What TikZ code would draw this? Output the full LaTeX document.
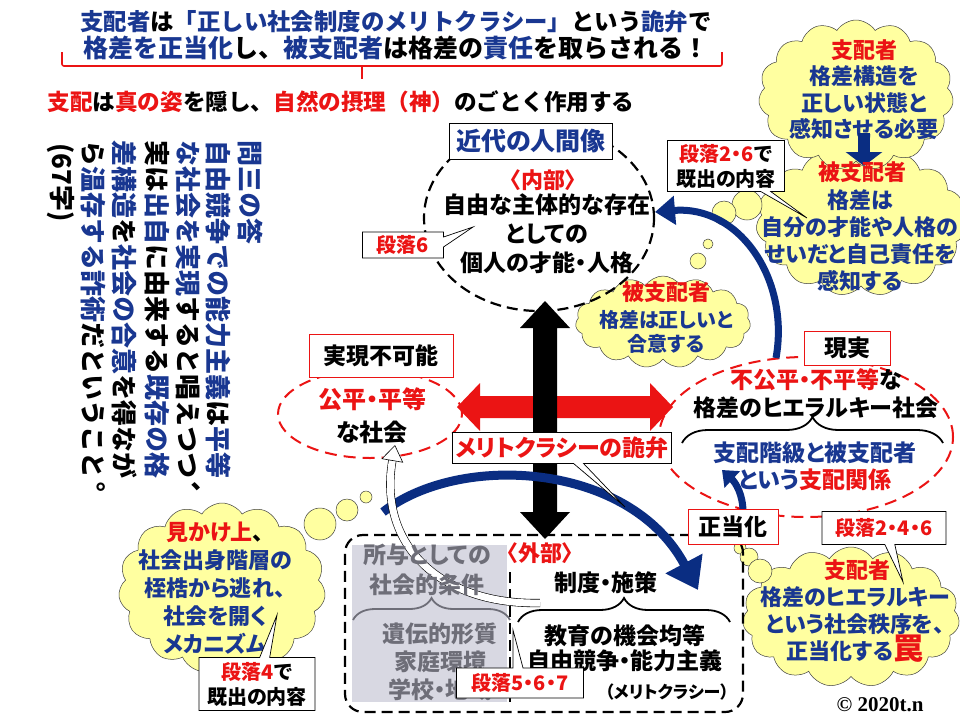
\documentclass[tikz,border=0pt]{standalone}
\usepackage{fontspec}
\setmainfont{Noto Sans CJK JP}[RawFeature=+palt]
\newfontfamily\fullfont{Noto Sans CJK JP}
\newfontfamily\tatefont{Noto Sans CJK JP}[Vertical=RotatedGlyphs]
\newfontfamily\crfont{Liberation Serif}
\usetikzlibrary{shapes.geometric, shapes.symbols, shapes.callouts, arrows.meta,
  decorations.pathreplacing}

\definecolor{tblue}{RGB}{25,55,145}
\definecolor{tred}{RGB}{235,20,20}
\definecolor{navy}{RGB}{10,45,130}
\definecolor{cloudy}{RGB}{255,255,160}
\definecolor{grayfill}{RGB}{216,216,226}
\definecolor{graytext}{RGB}{110,110,120}

\newcommand{\bl}[1]{\textcolor{tblue}{#1}}
\newcommand{\rd}[1]{\textcolor{tred}{#1}}
\newcommand{\jfs}[2]{\fontsize{#1}{#2}\selectfont\bfseries}

\tikzstyle{txt} = [align=center, inner sep=0pt]
\tikzstyle{tate} = [rotate=-90, anchor=west, inner sep=0pt,
  font=\tatefont\bfseries\fontsize{26}{30}\selectfont]
\tikzstyle{tatemark} = [inner sep=0pt, font=\fullfont\bfseries\fontsize{26}{30}\selectfont]
\tikzstyle{redbox} = [rectangle, draw=tred, fill=white, line width=0.8pt,
  inner sep=2pt]
\tikzstyle{blackbox} = [rectangle, draw=black, fill=white, line width=0.8pt,
  inner sep=2pt]
\tikzstyle{note} = [rectangle callout, draw=black, fill=white, line width=0.7pt,
  inner sep=2pt, align=center, callout pointer width=10pt]
\tikzstyle{bubble} = [cloud, cloud puffs=15, cloud puff arc=115,
  cloud ignores aspect, draw=black!75, fill=cloudy, line width=0.5pt]
\tikzstyle{puff} = [circle, draw=black!75, fill=cloudy, line width=0.5pt,
  inner sep=0pt]
\tikzstyle{blackring} = [ellipse, draw=black, line width=2.2pt,
  dash pattern=on 11pt off 6pt]
\tikzstyle{redring} = [ellipse, draw=tred, line width=2pt,
  dash pattern=on 12pt off 7pt]
\tikzstyle{navyarrow} = [navy, line width=7pt,
  -{Triangle[length=20pt, width=28pt]}]
\tikzstyle{curly} = [decorate, decoration={brace, amplitude=26pt, aspect=0.5},
  line width=1.8pt]

\begin{document}
\begin{tikzpicture}[x=1pt, y=-1pt]
  \useasboundingbox (0,0) rectangle (960,720);
  \fill [white] (0,0) rectangle (960,720);

  % title
  \node (title1) [txt, font=\fullfont\jfs{23.4}{28}] at (396,22)
    {\bl{支配者}は\bl{「正しい社会制度のメリトクラシー」}という\bl{詭弁}で};
  \node (title2) [txt, font=\fullfont\jfs{25}{28}] at (396,48)
    {\bl{格差を正当化}し、\bl{被支配者}は格差の\bl{責任}を取らされる！};
  \draw [tred, line width=1.6pt, rounded corners=2pt] (62,52) |- (722,66) -- (722,52);
  \draw [tred, line width=1.6pt] (362,66) -- (362,79);
  \node (nature) [txt, font=\fullfont\jfs{22.6}{28}] at (341,102)
    {\rd{支配}は\rd{真の姿}を隠し、\rd{自然の摂理（神）}のごとく作用する};

  % answer, written top to bottom
  \node (col1) [tate] at (250,140) {\bl{問三の答}};
  \node (col2) [tate] at (218,140) {\bl{自由競争での能力主義}は\bl{平等}};
  \node (col3) [tate] at (188,140) {\bl{な社会を実現}すると唱えつつ};
  \node (comma3) [tatemark] at (188,494) {︑};
  \node (col4) [tate] at (157,140) {実は\bl{出自}に由来する\bl{既存の格}};
  \node (col5) [tate] at (125,140) {\bl{差構造}を\bl{社会の合意}を得なが};
  \node (col6) [tate] at (93,140) {ら\bl{温存する詐術}だということ};
  \node (stop6) [tatemark] at (93,494) {︒};
  \node (col7) [tate] at (61,143) {(67字)};

  % clouds
  \node (cloudL) [bubble, minimum width=210pt, minimum height=148pt] at (861,222) {};
  \node (cloudU) [bubble, minimum width=195pt, minimum height=150pt] at (856,95) {};
  \node (p1) [puff, minimum size=30pt] at (747,205) {};
  \node (p2) [puff, minimum size=24pt] at (724,213) {};
  \node (p3) [puff, minimum size=10pt] at (708,244) {};
  \node (p4) [puff, minimum size=16pt] at (698,261) {};
  \node (cloudM) [bubble, minimum width=175pt, minimum height=92pt] at (663,322) {};
  \node (cloudBL) [bubble, minimum width=207pt, minimum height=170pt] at (222,588) {};
  \node (p5) [puff, minimum size=32pt] at (320,524) {};
  \node (p6) [puff, minimum size=22pt] at (347,510) {};
  \node (p7) [puff, minimum size=12pt] at (366,497) {};
  \node (cloudBR) [bubble, minimum width=217pt, minimum height=140pt] at (851,617) {};
  \node (p8) [puff, minimum size=12pt] at (740,548) {};
  \node (p9) [puff, minimum size=18pt] at (749,557) {};
  \node (p10) [puff, minimum size=24pt] at (760,571) {};

  % rings
  \node (naibu) [blackring, minimum width=230pt, minimum height=186pt] at (539,218) {};
  \node (kohei) [redring, minimum width=184pt, minimum height=88pt] at (370,414) {};
  \node (genjitsu) [redring, minimum width=294pt, minimum height=160pt] at (806,437) {};

  % outside frame
  \node (shoyo) [fill=grayfill, minimum width=155pt, minimum height=157pt,
    inner sep=0pt] at (429.5,623.5) {};
  \node (gaibu) [draw=black, line width=2.2pt, dash pattern=on 11pt off 6pt,
    rounded corners=18pt, minimum width=398pt, minimum height=177pt] at (544,623.5) {};
  \draw [line width=2.2pt, dash pattern=on 11pt off 6pt] (510,572) -- (510,702);

  % big arrows
  \fill [tred] (457,407) -- (480,383) -- (480,396) -- (650,396) -- (650,383)
    -- (673,407) -- (650,431) -- (650,418) -- (480,418) -- (480,431) -- cycle;
  \fill [black] (545,301) -- (570,328) -- (557,328) -- (557,512) -- (570,512)
    -- (545,539) -- (520,512) -- (533,512) -- (533,328) -- (520,328) -- cycle;

  \coordinate (tailA) at (776,358);
  \coordinate (headA) at (655,212);
  \draw [navyarrow] (tailA) .. controls (790,280) and (740,205) .. (headA);
  \coordinate (tailB) at (383,512);
  \coordinate (headB) at (698,590);
  \draw [navyarrow, line width=9pt, -{Triangle[length=30pt, width=40pt]}]
    (tailB) .. controls (460,452) and (630,462) .. (headB);
  \coordinate (tailC) at (743,512);
  \coordinate (headC) at (722,470);
  \draw [navyarrow, -{Triangle[length=14pt, width=22pt]}]
    (tailC) .. controls (743,495) and (736,483) .. (headC);
  \coordinate (tailD) at (540,603);
  \coordinate (headD) at (395,445);
  \draw [line width=0.6pt, double=white, double distance=7pt,
    -{Triangle[open, length=16pt, width=22pt, fill=white]}]
    (tailD) .. controls (440,605) and (378,545) .. (headD);

  % boxes
  \node (kindai) [blackbox, text=tblue, font=\jfs{25}{28}, minimum width=163pt,
    minimum height=36pt] at (531,141) {近代の人間像};
  \node (fukano) [redbox, font=\jfs{23}{26}, minimum width=144pt,
    minimum height=43pt] at (381,356) {実現不可能};
  \node (genjitsuL) [redbox, font=\jfs{23}{26}, minimum width=86pt,
    minimum height=34pt] at (847,348) {現実};
  \node (seitoka) [redbox, font=\jfs{23}{26}, minimum width=90pt,
    minimum height=35pt] at (733,527) {正当化};

  % notes
  \node (dan6) [note, font=\jfs{20}{24}, text=tred, minimum width=81pt,
    minimum height=26pt, callout absolute pointer={(473,227)}] at (403,245) {段落6};
  \node (dan26) [note, font=\jfs{20}{25}, minimum width=117pt, minimum height=51pt,
    callout absolute pointer={(807,218)}] at (726,166) {\rd{段落2・6}で\\既出の内容};
  \node (sophist) [note, font=\jfs{23}{26}, text=tred, minimum width=219pt,
    minimum height=31pt, callout absolute pointer={(625,507)}] at (562,448)
    {メリトクラシーの詭弁};
  \node (dan246) [note, font=\jfs{20}{24}, text=tred, minimum width=124pt,
    minimum height=33pt, callout absolute pointer={(903,582)}] at (884,528)
    {段落2・4・6};

  % inside
  \node (naibuT) [txt, font=\jfs{22}{26}, text=tred] at (543,180) {〈内部〉};
  \node (jiyu) [txt, font=\jfs{23}{29}] at (547,234)
    {自由な主体的な存在\\としての\\個人の才能・人格};

  % top right cloud
  \node (shihai1) [txt, font=\jfs{22}{26}, text=tred] at (864,50) {支配者};
  \node (kozo) [txt, font=\jfs{22}{26.5}, text=tblue] at (864,103)
    {格差構造を\\正しい状態と\\感知させる必要};
  \coordinate (downA) at (864,133);
  \coordinate (downB) at (864,166);
  \draw [navy, line width=12pt, -{Triangle[length=14pt, width=36pt]}] (downA) -- (downB);
  \node (hishihai1) [txt, font=\jfs{22}{26}, text=tred] at (862,172) {被支配者};
  \node (jiko) [txt, font=\jfs{22}{27}, text=tblue] at (860,241)
    {格差は\\自分の才能や人格の\\せいだと自己責任を\\感知する};

  % middle cloud
  \node (hishihai2) [txt, font=\jfs{22}{26}, text=tred] at (666,292) {被支配者};
  \node (goi) [txt, font=\jfs{20}{24}, text=tblue] at (666,332)
    {格差は正しいと\\合意する};

  % left ring
  \node (kohei1) [txt, font=\jfs{24}{33}] at (372,416) {\rd{公平・平等}\\な社会};

  % right ring
  \node (fukohei) [txt, font=\jfs{23}{28}] at (816,394)
    {\rd{不公平・不平等}な\\格差のヒエラルキー社会};
  \draw [curly] (682,443) -- (943,443);
  \node (kankei) [txt, font=\jfs{23}{27}, text=tblue] at (815,466)
    {支配階級と被支配者\\という\rd{支配関係}};

  % outside
  \node (gaibuT) [txt, font=\jfs{22}{26}, text=tred] at (540,553) {〈外部〉};
  \node (seido) [txt, font=\jfs{23}{26}] at (606,583) {制度・施策};
  \draw [curly, decoration={amplitude=24pt}] (518,622) -- (730,622);
  \node (kyoiku) [txt, font=\jfs{23}{25}] at (625,648)
    {教育の機会均等\\自由競争・能力主義};
  \node (meri) [txt, font=\jfs{17}{20}] at (667,692) {（メリトクラシー）};
  \node (shoyoT) [txt, font=\jfs{23}{30}, text=graytext] at (427,570)
    {所与としての\\社会的条件};
  \draw [curly, graytext, decoration={amplitude=22pt}] (353,620) -- (510,620);
  \node (iden) [txt, font=\jfs{23}{28}, text=graytext] at (440,662)
    {遺伝的形質\\家庭環境\\学校・地域};
  \node (dan567) [note, font=\jfs{20}{24}, text=tred, minimum width=127pt,
    minimum height=30pt, callout absolute pointer={(513,630)}] at (520,683)
    {段落5・6・7};

  % bottom left cloud
  \node (mikake) [txt, font=\jfs{22}{28}, text=tblue] at (215,588)
    {\rd{見かけ上}\textcolor{black}{、}\\社会出身階層の\\桎梏から逃れ、\\社会を開く\\メカニズム};
  \node (dan4) [note, font=\jfs{20}{25}, minimum width=116pt, minimum height=53pt,
    callout absolute pointer={(277,615)}] at (257,684) {\rd{段落4}で\\既出の内容};

  % bottom right cloud
  \node (shihai2) [txt, font=\jfs{22}{26}, text=tred] at (857,570) {支配者};
  \node (wana) [txt, font=\jfs{22}{27}, text=tblue] at (855,625)
    {格差のヒエラルキー\\という社会秩序を、\\正当化する\rd{\fontsize{30}{27}\selectfont 罠}};

  \node (copy) [txt, font=\crfont\bfseries\fontsize{21}{24}\selectfont] at (880,705)
    {© 2020t.n};
\end{tikzpicture}
\end{document}
